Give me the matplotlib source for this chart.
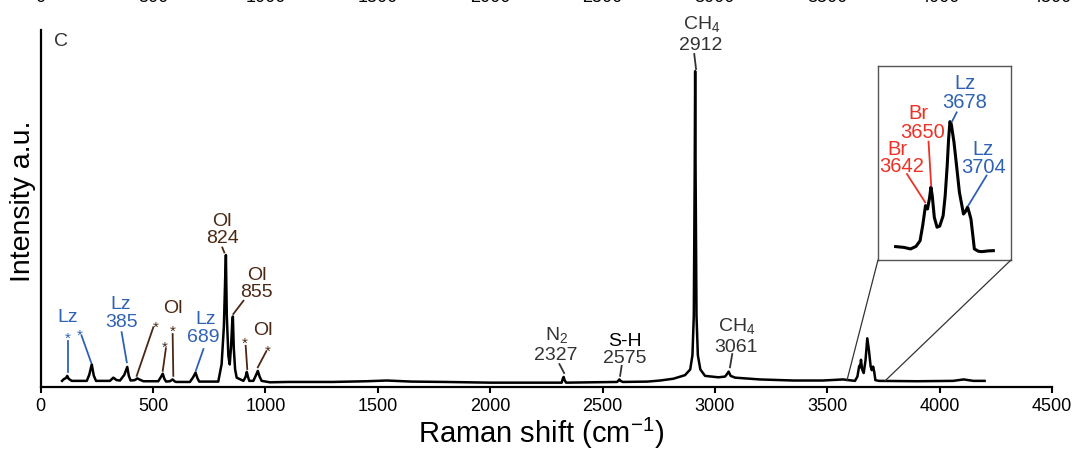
import matplotlib.pyplot as plt
from matplotlib.patches import ConnectionPatch
from matplotlib import transforms

plt.rcParams['font.family'] = ['Liberation Sans', 'DejaVu Sans']
plt.rcParams['mathtext.fontset'] = 'custom'
plt.rcParams['mathtext.rm'] = 'Liberation Sans'
plt.rcParams['mathtext.it'] = 'Liberation Sans:italic'
plt.rcParams['mathtext.bf'] = 'Liberation Sans:bold'

BLUE = '#2f62b3'
BROWN = '#4a2814'
RED = '#ec3226'
GREY = '#333333'

# full spectrum, Raman shift (cm-1) vs intensity (a.u.)
shift = [95, 101, 112, 118, 124, 138, 205, 216, 227, 236, 246, 308, 323, 338, 353,
         372, 385, 392, 400, 418, 430, 442, 457, 523, 536, 543, 550, 558, 575, 587,
         595, 602, 664, 678, 689, 697, 705, 790, 805, 815, 821, 824, 828, 835, 841,
         847, 852, 855, 859, 865, 872, 902, 912, 917, 922, 928, 946, 958, 966, 974,
         983, 1020, 1100, 1300, 1450, 1540, 1650, 1800, 2000, 2200, 2318, 2324, 2327,
         2331, 2338, 2450, 2565, 2572, 2575, 2580, 2590, 2700, 2756, 2815, 2867, 2890,
         2900, 2906, 2910, 2912, 2914, 2918, 2924, 2935, 2956, 3015, 3045, 3055, 3061,
         3070, 3090, 3200, 3350, 3480, 3570, 3623, 3634, 3642, 3646, 3650, 3655, 3662,
         3670, 3678, 3685, 3693, 3698, 3704, 3709, 3714, 3730, 3900, 4060, 4107, 4150,
         4200]
intensity = [1.8, 2.2, 2.6, 3.2, 2.4, 1.8, 1.8, 3.5, 6.4, 3.3, 1.8, 1.8, 2.7, 2.0, 1.9,
             3.5, 5.7, 3.2, 1.9, 2.0, 2.5, 2.1, 1.7, 1.7, 3.0, 3.8, 2.4, 1.6, 1.7, 2.2,
             1.7, 1.5, 1.5, 2.8, 4.1, 2.6, 1.6, 1.6, 6.5, 17, 31, 37, 20, 8.8, 6.4,
             11.5, 18, 19.8, 11, 5, 2.7, 1.8, 3.0, 4.3, 3.0, 1.8, 1.8, 3.4, 4.6, 3.0,
             1.8, 1.4, 1.5, 1.5, 1.7, 1.9, 1.6, 1.5, 1.3, 1.3, 1.3, 2.6, 2.9,
             2.0, 1.3, 1.4, 1.5, 2.0, 2.2, 1.8, 1.5, 1.6, 1.9, 2.4, 3.4, 5.0,
             9, 20, 60, 88.4, 60, 20, 9, 5.0, 3.2, 2.8, 3.0, 3.8, 4.4,
             3.2, 2.7, 2.2, 1.9, 1.9, 2.2, 1.8, 3.0, 6.0, 5.6, 7.7, 5.0, 4.0,
             7.5, 13.7, 10.5, 5.8, 4.8, 5.8, 4.3, 2.0, 1.8, 1.7, 1.8, 2.2, 1.8,
             1.8]

# O-H stretching region, enlarged in the inset
oh_shift = [3598, 3610, 3620, 3628, 3634, 3638, 3642, 3645, 3648, 3650, 3652, 3655,
            3659, 3663, 3668, 3671, 3674, 3676, 3678, 3680, 3684, 3688, 3692, 3698,
            3701, 3704, 3706, 3709, 3712, 3714, 3720, 3725, 3735, 3742]
oh_intensity = [6.9, 6.5, 5.7, 7.0, 9.9, 18, 28.0, 26.3, 32, 37.5, 33, 22,
                16.9, 17.5, 22.8, 33, 48.6, 62, 71.3, 70, 60.7, 48, 34.9, 23.7,
                25, 27.2, 25, 21.1, 12, 5.7, 4.5, 4.3, 4.7, 4.8]

fig = plt.figure(figsize=(10.83, 4.52), dpi=100)
ax = fig.add_axes([0.0376, 0.1409, 0.9338, 0.7912])
ax.plot(shift, intensity, color='black', lw=1.8, solid_joinstyle='round')
ax.set_xlim(0, 4500)
ax.set_ylim(0, 100)
ax.set_xticks(range(0, 4501, 500))
ax.set_yticks([])
for s in ['top', 'right']:
    ax.spines[s].set_visible(False)
for s in ['left', 'bottom']:
    ax.spines[s].set_linewidth(1.6)
ax.tick_params(axis='x', direction='out', length=4, width=1.5, labelsize=13, pad=3)
ax.set_xlabel('Raman shift (cm$^{-1}$)', fontsize=21)
ax.xaxis.set_label_coords(0.4947, -0.078)
ax.set_ylabel('Intensity a.u.', fontsize=20.5)
ax.yaxis.set_label_coords(-0.005, 0.524)
ax.text(59, 96.9, 'C', fontsize=14, color=GREY, ha='left', va='center')

# tick labels of the panel above, cut by the top edge
top = transforms.blended_transform_factory(ax.transData, fig.transFigure)
for t in range(0, 4501, 500):
    fig.text(t, 0.9956, str(t), transform=top, fontsize=13, ha='center', va='baseline')


def label(a, x, y, s, color, size=14):
    a.text(x, y, s, color=color, fontsize=size, ha='center', va='center_baseline',
           clip_on=False)


def leader(a, p0, p1, color):
    a.plot([p0[0], p1[0]], [p0[1], p1[1]], color=color, lw=1.3, clip_on=False)


# lizardite / olivine / unassigned bands below 1000 cm-1
label(ax, 119, 20.4, 'Lz', BLUE)
label(ax, 118, 14.3, '*', BLUE, 11)
leader(ax, (123, 13.0), (123, 4.2), BLUE)
label(ax, 172, 15.2, '*', BLUE, 11)
leader(ax, (182, 14.4), (224, 7.0), BLUE)
label(ax, 356, 24.1, 'Lz', BLUE)
label(ax, 360, 19.1, '385', BLUE)
leader(ax, (360, 15.4), (383, 7.0), BLUE)
label(ax, 512, 17.4, '*', BROWN, 11)
leader(ax, (501, 16.8), (427, 3.2), BROWN)
label(ax, 589, 22.8, 'Ol', BROWN)
label(ax, 553, 11.8, '*', BROWN, 11)
leader(ax, (557, 10.9), (543, 4.6), BROWN)
label(ax, 586, 16.2, '*', BROWN, 11)
leader(ax, (587, 14.9), (590, 3.2), BROWN)
label(ax, 734, 19.9, 'Lz', BLUE)
label(ax, 724, 14.9, '689', BLUE)
leader(ax, (724, 10.7), (690, 4.6), BLUE)
label(ax, 805, 47.1, 'Ol', BROWN)
label(ax, 811, 42.4, '824', BROWN)
leader(ax, (808, 39.1), (817, 37.7), BROWN)
label(ax, 961, 32.2, 'Ol', BROWN)
label(ax, 958, 27.3, '855', BROWN)
leader(ax, (902, 24.2), (857, 20.5), BROWN)
label(ax, 990, 16.8, 'Ol', BROWN)
label(ax, 1011, 10.6, '*', BROWN, 11)
leader(ax, (1003, 10.0), (966, 5.6), BROWN)
label(ax, 909, 12.9, '*', BROWN, 11)
leader(ax, (912, 11.6), (919, 5.1), BROWN)

# fluid inclusion bands
label(ax, 2297, 15.7, 'N$_2$', GREY)
label(ax, 2293, 9.7, '2327', GREY)
leader(ax, (2308, 6.5), (2329, 4.0), GREY)
label(ax, 2600, 13.7, 'S-H', 'black')
label(ax, 2600, 8.8, '2575', GREY)
leader(ax, (2585, 6.0), (2578, 3.2), GREY)
label(ax, 3097, 18.2, 'CH$_4$', GREY)
label(ax, 3094, 11.9, '3061', GREY)
leader(ax, (3077, 9.3), (3067, 5.6), GREY)
label(ax, 2941, 102.5, 'CH$_4$', GREY)
label(ax, 2937, 96.5, '2912', GREY)
leader(ax, (2908, 93.2), (2916, 89.0), GREY)

# inset: brucite and lizardite O-H bands
ins = fig.add_axes([0.8107, 0.4226, 0.1228, 0.4292])
ins.plot(oh_shift, oh_intensity, color='black', lw=2.2, solid_joinstyle='round')
ins.set_xlim(3572, 3768)
ins.set_ylim(0, 100)
ins.set_xticks([])
ins.set_yticks([])
for s in ins.spines.values():
    s.set_color('#555555')
    s.set_linewidth(1.0)

label(ins, 3700, 92.4, 'Lz', BLUE, 14.5)
label(ins, 3700, 82.8, '3678', BLUE, 14.5)
leader(ins, (3688, 76.1), (3681, 71.3), BLUE)
label(ins, 3631, 77.0, 'Br', RED, 14.5)
label(ins, 3637, 67.5, '3650', RED, 14.5)
leader(ins, (3646.5, 61.0), (3650.4, 38.3), RED)
label(ins, 3601, 58.6, 'Br', RED, 14.5)
label(ins, 3607, 49.5, '3642', RED, 14.5)
leader(ins, (3614.7, 44.3), (3641.6, 29.7), RED)
label(ins, 3727, 58.6, 'Lz', BLUE, 14.5)
label(ins, 3728, 49.0, '3704', BLUE, 14.5)
leader(ins, (3732, 43.5), (3705, 28.0), BLUE)

for corner, target in [((0, 0), (3587, 1.8)), ((1, 0), (3757, 1.8))]:
    con = ConnectionPatch(xyA=corner, coordsA=ins.transAxes, xyB=target, coordsB=ax.transData,
                          color='#333333', lw=0.9)
    fig.add_artist(con)

fig.savefig('out.png', dpi=100)
